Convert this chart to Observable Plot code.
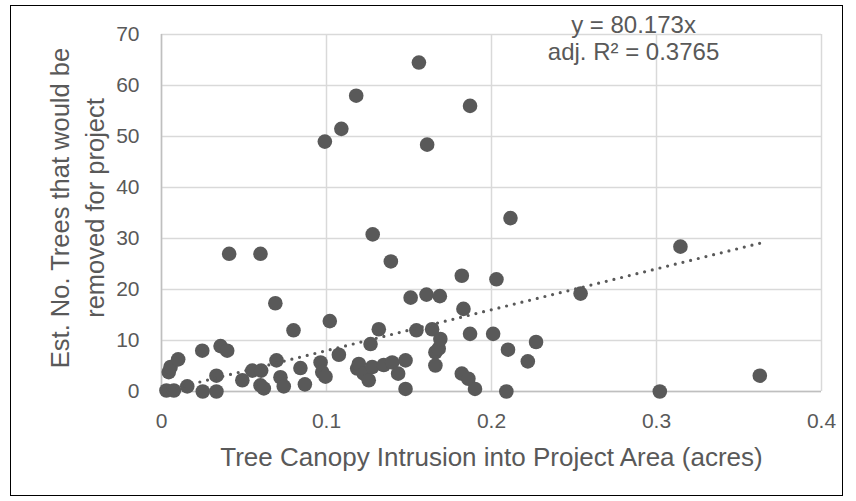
<!DOCTYPE html>
<html>
<head>
<meta charset="utf-8">
<script src="https://cdn.jsdelivr.net/npm/d3@7"></script>
<script src="https://cdn.jsdelivr.net/npm/@observablehq/plot@0.6"></script>
<style>
  body { margin: 0; background: #fff; }
  #wrap { position: relative; width: 856px; height: 501px; overflow: hidden; }
  #border { position: absolute; left: 10px; top: 5px; width: 833px; height: 491px; border: 1.5px solid #000; box-sizing: border-box; pointer-events: none; }
</style>
</head>
<body>
<div id="wrap"><div id="chart"></div><div id="border"></div></div>
<script>
// Tree canopy intrusion (acres) vs estimated number of trees removed
const canopyAcres = [
  0.003, 0.0075, 0.0044, 0.0055, 0.0101, 0.0156, 0.025, 0.0247, 0.0333, 0.0333,
  0.0358, 0.0398, 0.041, 0.049, 0.055, 0.060, 0.0604, 0.060, 0.062, 0.069,
  0.0697, 0.0721, 0.0741, 0.080, 0.0842, 0.0869, 0.0964, 0.0974, 0.0994, 0.099,
  0.102, 0.1075, 0.109, 0.118, 0.1186, 0.1196, 0.1226, 0.1256, 0.1267, 0.1277,
  0.128, 0.1317, 0.1347, 0.139, 0.1398, 0.1434, 0.1479, 0.1479, 0.151, 0.1545,
  0.156, 0.1606, 0.161, 0.164, 0.166, 0.166, 0.168, 0.1687, 0.169, 0.182,
  0.182, 0.183, 0.186, 0.187, 0.187, 0.190, 0.201, 0.203, 0.209, 0.210,
  0.2115, 0.222, 0.227, 0.254, 0.302, 0.3145, 0.3626
];
const treesRemoved = [
  0.2, 0.2, 3.8, 4.8, 6.3, 1.0, 0, 8.0, 0, 3.1,
  8.9, 8.0, 27.0, 2.2, 4.1, 27.0, 4.1, 1.2, 0.6, 17.3,
  6.1, 2.8, 1.0, 12.0, 4.6, 1.4, 5.7, 3.8, 2.9, 49.0,
  13.8, 7.2, 51.5, 58.0, 4.5, 5.4, 3.5, 2.2, 9.3, 4.8,
  30.8, 12.2, 5.2, 25.5, 5.7, 3.5, 6.1, 0.5, 18.4, 12.0,
  64.5, 19.0, 48.4, 12.2, 7.7, 5.1, 8.4, 18.7, 10.3, 22.7,
  3.5, 16.2, 2.5, 56.0, 11.3, 0.5, 11.3, 22.0, 0, 8.2,
  34.0, 5.9, 9.7, 19.2, 0, 28.4, 3.1
];
const xTicks = [0, 0.1, 0.2, 0.3, 0.4];
const yTicks = [0, 10, 20, 30, 40, 50, 60, 70];
const trendSlope = 80.173;
const equationLines = ["y = 80.173x", "adj. R\u00b2 = 0.3765"];
const xTitle = "Tree Canopy Intrusion into Project Area (acres)";
const yTitleLines = ["Est. No. Trees that would be", "removed for project"];

const points = canopyAcres.map((x, i) => ({x, y: treesRemoved[i]}));
const xMax = d3.max(canopyAcres);
const trend = [0, xMax].map(x => ({x, y: trendSlope * x}));

const ink = "#595959";
const font = "'Liberation Sans', Arial, Helvetica, sans-serif";

const chart = Plot.plot({
  width: 856,
  height: 501,
  marginLeft: 161,
  marginRight: 35,
  marginTop: 34,
  marginBottom: 110,
  style: { fontFamily: font, fontSize: "21px", color: ink, background: "transparent", overflow: "visible" },
  x: { domain: [0, 0.4], label: null },
  y: { domain: [0, 70], label: null },
  marks: [
    Plot.gridX(xTicks, { stroke: "#d9d9d9", strokeOpacity: 1, strokeWidth: 1.5 }),
    Plot.gridY(yTicks, { stroke: "#d9d9d9", strokeOpacity: 1, strokeWidth: 1.5 }),
    Plot.ruleX([0], { stroke: "#bfbfbf", strokeWidth: 1.5 }),
    Plot.ruleY([0], { stroke: "#bfbfbf", strokeWidth: 1.5 }),
    Plot.axisX({ ticks: xTicks, tickSize: 0, tickPadding: 22, tickFormat: d => String(d), label: null, fill: ink, fontSize: 21 }),
    Plot.axisY({ ticks: yTicks, tickSize: 0, tickPadding: 22, tickFormat: d => String(d), label: null, fill: ink, fontSize: 21 }),
    Plot.dot(points, { x: "x", y: "y", r: 7.3, fill: ink, stroke: "none" }),
    Plot.line(trend, { x: "x", y: "y", stroke: ink, strokeWidth: 3.2, strokeDasharray: "0 7.9", strokeLinecap: "round" }),
    Plot.text([equationLines.join("\n")], { frameAnchor: "top", dx: 142, dy: 3, lineAnchor: "middle", lineHeight: 1.14, fontSize: 24, fill: ink }),
    Plot.text([xTitle], { frameAnchor: "bottom", dy: 66, lineAnchor: "middle", textAnchor: "middle", fontSize: 26, fill: ink }),
    Plot.text([yTitleLines.join("\n")], { frameAnchor: "left", dx: -86, dy: -5, rotate: -90, lineAnchor: "middle", textAnchor: "middle", lineHeight: 1.35, fontSize: 25.5, fill: ink })
  ]
});
document.getElementById("chart").appendChild(chart);
</script>
</body>
</html>
